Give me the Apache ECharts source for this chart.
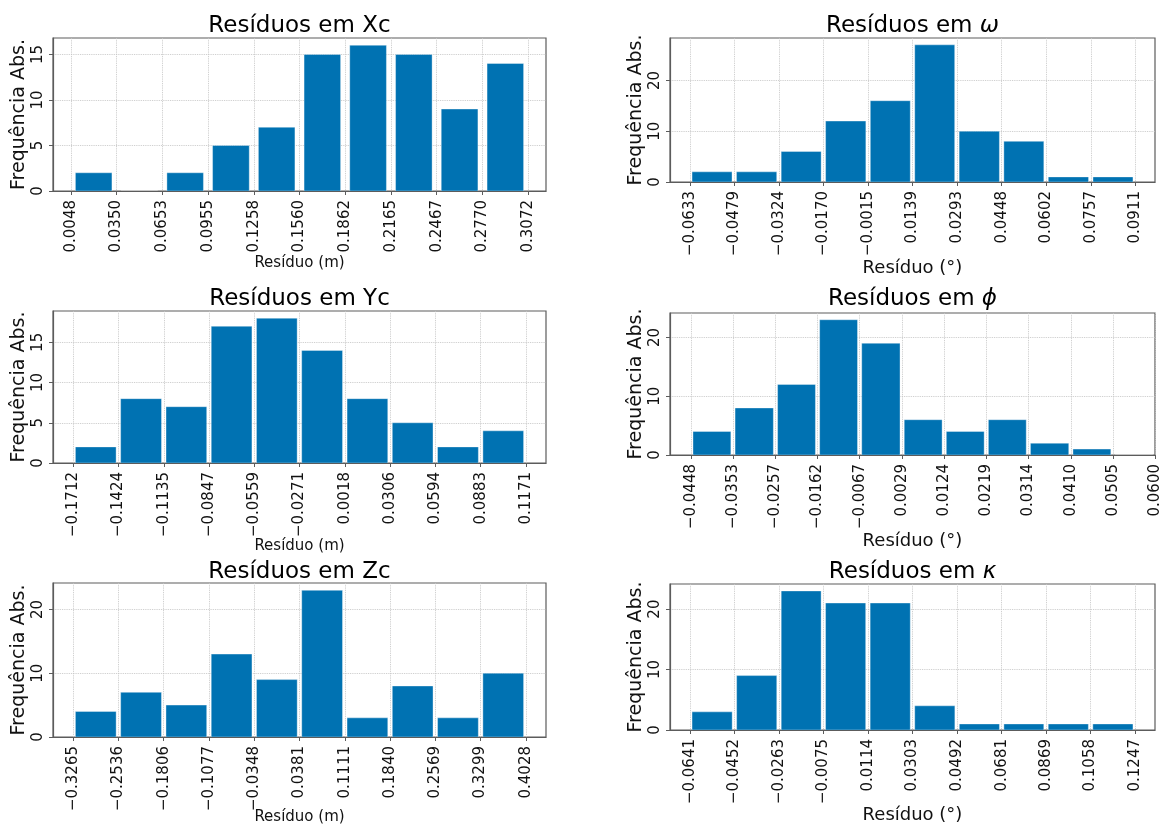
<!DOCTYPE html>
<html lang="pt-BR">
<head>
<meta charset="UTF-8" />
<title>Resíduos</title>
<style>
  html, body { margin: 0; padding: 0; background: #fff; }
  #main { width: 1160px; height: 826px; }
</style>
<script src="https://cdn.jsdelivr.net/npm/echarts@6/dist/echarts.min.js"></script>
</head>
<body>
<div id="main"></div>
<script>
// bin edges (also the x tick labels) and counts of each histogram
var xcEdges = [0.0048, 0.0350, 0.0653, 0.0955, 0.1258, 0.1560, 0.1862, 0.2165, 0.2467, 0.2770, 0.3072];
var xcCounts = [2, 0, 2, 5, 7, 15, 16, 15, 9, 14];

var omegaEdges = [-0.0633, -0.0479, -0.0324, -0.0170, -0.0015, 0.0139, 0.0293, 0.0448, 0.0602, 0.0757, 0.0911];
var omegaCounts = [2, 2, 6, 12, 16, 27, 10, 8, 1, 1];

var ycEdges = [-0.1712, -0.1424, -0.1135, -0.0847, -0.0559, -0.0271, 0.0018, 0.0306, 0.0594, 0.0883, 0.1171];
var ycCounts = [2, 8, 7, 17, 18, 14, 8, 5, 2, 4];

var phiEdges = [-0.0448, -0.0353, -0.0257, -0.0162, -0.0067, 0.0029, 0.0124, 0.0219, 0.0314, 0.0410, 0.0505, 0.0600];
var phiCounts = [4, 8, 12, 23, 19, 6, 4, 6, 2, 1, 0];

var zcEdges = [-0.3265, -0.2536, -0.1806, -0.1077, -0.0348, 0.0381, 0.1111, 0.1840, 0.2569, 0.3299, 0.4028];
var zcCounts = [4, 7, 5, 13, 9, 23, 3, 8, 3, 10];

var kappaEdges = [-0.0641, -0.0452, -0.0263, -0.0075, 0.0114, 0.0303, 0.0492, 0.0681, 0.0869, 0.1058, 0.1247];
var kappaCounts = [3, 9, 23, 21, 21, 4, 1, 1, 1, 1];

var yTicks5 = [0, 5, 10, 15];
var yTicks10 = [0, 10, 20];

var FONT = "'DejaVu Sans', sans-serif";
var BAR = '#0072B2';
var EDGE = '#5c5c5c';
var GRID = '#c4c4c4';

// box = [left, top, width, height] of the plot area
var panels = [
  { title: 'Resíduos em Xc', edges: xcEdges, counts: xcCounts, yTicks: yTicks5, xName: 'Resíduo (m)', nameSize: 15, nameGap: 65, rw: 0.8, box: [53, 38, 493, 153], ty: 26 },
  { title: 'Resíduos em {i|ω}', edges: omegaEdges, counts: omegaCounts, yTicks: yTicks10, xName: 'Resíduo (°)', nameSize: 18, nameGap: 77, rw: 0.9, box: [670, 38, 485, 144], ty: 26 },
  { title: 'Resíduos em Yc', edges: ycEdges, counts: ycCounts, yTicks: yTicks5, xName: 'Resíduo (m)', nameSize: 15, nameGap: 76, rw: 0.9, box: [53, 311, 493, 152], ty: 299 },
  { title: 'Resíduos em {i|ϕ}', edges: phiEdges, counts: phiCounts, yTicks: yTicks10, xName: 'Resíduo (°)', nameSize: 18, nameGap: 77, rw: 0.9, box: [670, 313, 485, 142], ty: 299, clipRight: true },
  { title: 'Resíduos em Zc', edges: zcEdges, counts: zcCounts, yTicks: yTicks10, xName: 'Resíduo (m)', nameSize: 15, nameGap: 73, rw: 0.9, box: [53, 583, 493, 154], ty: 572 },
  { title: 'Resíduos em {i|κ}', edges: kappaEdges, counts: kappaCounts, yTicks: yTicks10, xName: 'Resíduo (°)', nameSize: 18, nameGap: 76, rw: 0.9, box: [670, 584, 485, 146], ty: 572 }
];

function fmt(v) {
  return v.toFixed(4).replace('-', '\u2212');
}

var grids = [], xAxes = [], yAxes = [], series = [], titles = [];

panels.forEach(function (p, i) {
  var n = p.counts.length;
  var w = (p.edges[n] - p.edges[0]) / n;
  var a = (1 - p.rw) / 2;
  var span = (n - 2 * a) * w;
  var xmin = p.edges[0] + a * w - 0.05 * span;
  var xmax = p.clipRight ? p.edges[n] : p.edges[n] - a * w + 0.05 * span;
  var ymax = Math.max.apply(null, p.counts) * 1.05;

  grids.push({
    left: p.box[0], top: p.box[1], width: p.box[2], height: p.box[3],
    show: true, borderColor: EDGE, borderWidth: 1.2, backgroundColor: '#fff',
    containLabel: false, outerBoundsMode: 'none'
  });

  xAxes.push({
    gridIndex: i, type: 'value', min: xmin, max: xmax,
    axisLine: { show: true, onZero: false, lineStyle: { color: EDGE, width: 1.2 } },
    axisTick: { show: true, length: 4, customValues: p.edges, lineStyle: { color: EDGE } },
    axisLabel: { customValues: p.edges, rotate: 90, margin: 9, fontSize: 15, color: '#111', fontFamily: FONT, formatter: fmt },
    splitLine: { show: true, lineStyle: { color: GRID, type: 'dotted', width: 0.9 } },
    name: p.xName, nameLocation: 'middle', nameGap: p.nameGap,
    nameMoveOverlap: false,
    nameTextStyle: { fontSize: p.nameSize, color: '#111', fontFamily: FONT }
  });

  yAxes.push({
    gridIndex: i, type: 'value', min: 0, max: ymax,
    axisLine: { show: true, onZero: false, lineStyle: { color: EDGE, width: 1.2 } },
    axisTick: { show: true, length: 4, customValues: p.yTicks, lineStyle: { color: EDGE } },
    axisLabel: { customValues: p.yTicks, rotate: 90, margin: 7, fontSize: 15, color: '#111', fontFamily: FONT },
    splitLine: { show: true, lineStyle: { color: GRID, type: 'dotted', width: 0.9 } },
    name: 'Frequência Abs.', nameLocation: 'middle', nameRotate: 90, nameGap: 24,
    nameMoveOverlap: false,
    nameTextStyle: { fontSize: 19, color: '#111', fontFamily: FONT }
  });

  var data = p.counts.map(function (c, k) {
    return [p.edges[k] + a * w, p.edges[k + 1] - a * w, c];
  });

  series.push({
    type: 'custom', xAxisIndex: i, yAxisIndex: i, clip: true,
    encode: { x: [0, 1], y: 2 },
    data: data,
    renderItem: function (params, api) {
      var p0 = api.coord([api.value(0), api.value(2)]);
      var p1 = api.coord([api.value(1), 0]);
      return {
        type: 'rect',
        shape: { x: p0[0], y: p0[1], width: p1[0] - p0[0], height: p1[1] - p0[1] },
        style: { fill: BAR, stroke: 'rgba(255,255,255,0.35)', lineWidth: 1 }
      };
    }
  });

  titles.push({
    text: p.title,
    left: p.box[0] + p.box[2] / 2, top: p.ty - 11,
    textAlign: 'center', padding: 0,
    textStyle: {
      fontSize: 23, fontWeight: 'normal', color: '#000', fontFamily: FONT,
      rich: { i: { fontSize: 23, fontStyle: 'italic', color: '#000', fontFamily: FONT } }
    }
  });
});

var myChart = echarts.init(document.getElementById('main'), null, { renderer: 'canvas' });
myChart.setOption({
  animation: false,
  backgroundColor: '#fff',
  title: titles,
  grid: grids,
  xAxis: xAxes,
  yAxis: yAxes,
  series: series
});
</script>
</body>
</html>
